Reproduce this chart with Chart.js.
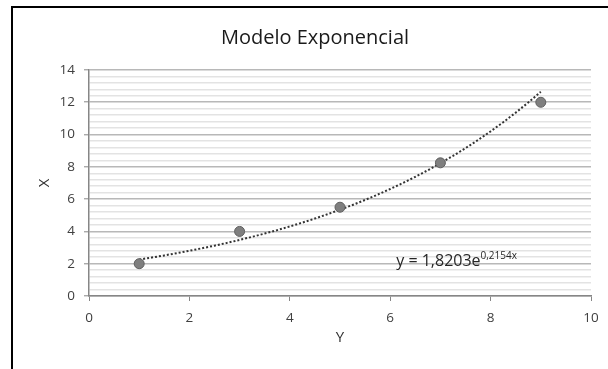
<!DOCTYPE html>
<html>
<head>
<meta charset="utf-8">
<script src="https://cdn.jsdelivr.net/npm/chart.js@4/dist/chart.umd.min.js"></script>
<style>
  html, body { margin: 0; padding: 0; background: #fff; }
  #wrap { width: 608px; height: 369px; position: relative; }
</style>
</head>
<body>
<div id="wrap"><canvas id="c" width="608" height="369"></canvas></div>
<script>
// Observed values
const xValues = [1, 3, 5, 7, 9];
const yValues = [2, 4, 5.5, 8.25, 12];

// Exponential trendline coefficients: y = a * e^(b x)
const trendA = 1.8203;
const trendB = 0.2154;
const trendLabel = "y = 1,8203e";
const trendExpLabel = "0,2154x";

const chartTitle = "Modelo Exponencial";
const xTitle = "Y";
const yTitle = "X";

const points = xValues.map((x, i) => ({ x: x, y: yValues[i] }));
const trendPoints = [];
for (let k = 0; k <= 32; k++) {
  const x = xValues[0] + k * (xValues[xValues.length - 1] - xValues[0]) / 32;
  trendPoints.push({ x: x, y: trendA * Math.exp(trendB * x) });
}

const FONT = "'Open Sans', 'Liberation Sans', sans-serif";
const isMajor = v => Math.abs(v / 2 - Math.round(v / 2)) < 1e-6;

const decorations = {
  id: 'decorations',
  beforeDraw(chart) {
    const ctx = chart.ctx;
    ctx.save();
    ctx.fillStyle = '#fff';
    ctx.fillRect(0, 0, chart.width, chart.height);
    ctx.restore();
  },
  afterDraw(chart) {
    const ctx = chart.ctx;
    ctx.save();
    // outer frame
    ctx.strokeStyle = '#000';
    ctx.lineWidth = 2;
    ctx.beginPath();
    ctx.moveTo(12, chart.height + 2);
    ctx.lineTo(12, 7);
    ctx.lineTo(chart.width + 2, 7);
    ctx.stroke();
    // title
    ctx.fillStyle = '#1a1a1a';
    ctx.font = "20px " + FONT;
    ctx.textAlign = 'center';
    ctx.textBaseline = 'alphabetic';
    ctx.fillText(chartTitle, 315, 44);
    // trendline equation
    const xs = chart.scales.x, ys = chart.scales.y;
    const px = xs.getPixelForValue(6.12);
    const py = ys.getPixelForValue(1.85);
    ctx.textAlign = 'left';
    ctx.fillStyle = '#262626';
    ctx.font = "16px " + FONT;
    ctx.fillText(trendLabel, px, py);
    const w = ctx.measureText(trendLabel).width;
    ctx.font = "10px " + FONT;
    ctx.fillText(trendExpLabel, px + w, py - 7);
    ctx.restore();
  }
};

new Chart(document.getElementById('c'), {
  type: 'scatter',
  data: {
    datasets: [
      {
        data: trendPoints,
        showLine: true,
        borderColor: '#333',
        borderWidth: 2,
        borderDash: [2, 2],
        pointRadius: 0,
        fill: false,
        order: 2
      },
      {
        data: points,
        pointRadius: 5,
        pointBackgroundColor: '#7f7f7f',
        pointBorderColor: '#5f5f5f',
        pointBorderWidth: 1,
        showLine: false,
        order: 1
      }
    ]
  },
  options: {
    responsive: false,
    animation: false,
    devicePixelRatio: 1,
    layout: { padding: { top: 70, right: 17, left: 0, bottom: 0 } },
    plugins: {
      legend: { display: false },
      tooltip: { enabled: false },
      title: { display: false }
    },
    scales: {
      x: {
        type: 'linear',
        min: 0, max: 10,
        afterFit(s) { s.height = 73; },
        ticks: {
          stepSize: 2,
          color: '#404040',
          font: { family: FONT, size: 13.5 },
          padding: 9,
          maxRotation: 0
        },
        grid: {
          drawOnChartArea: false,
          drawTicks: true,
          tickLength: 5,
          tickColor: '#868686',
          tickWidth: 1
        },
        border: { color: '#868686', width: 1.5 },
        title: {
          display: true,
          text: xTitle,
          color: '#333',
          font: { family: FONT, size: 15 },
          padding: { top: 0, bottom: 22 }
        }
      },
      y: {
        type: 'linear',
        min: 0, max: 14,
        afterFit(s) { s.width = 89; },
        ticks: {
          stepSize: 0.4,
          maxTicksLimit: 100,
          autoSkip: false,
          color: '#404040',
          font: { family: FONT, size: 13.5 },
          padding: 9,
          callback: v => isMajor(v) ? String(Math.round(v)) : ''
        },
        grid: {
          color: ctx => isMajor(ctx.tick.value) ? '#b8b8b8' : '#e3e3e3',
          lineWidth: 1.6,
          tickLength: 5,
          tickColor: ctx => isMajor(ctx.tick.value) ? '#868686' : 'rgba(0,0,0,0)',
          tickWidth: 1
        },
        border: { color: '#868686', width: 1.5 },
        title: {
          display: true,
          text: yTitle,
          color: '#333',
          font: { family: FONT, size: 15 },
          padding: { top: 36, bottom: 0 }
        }
      }
    }
  },
  plugins: [decorations]
});
</script>
</body>
</html>
